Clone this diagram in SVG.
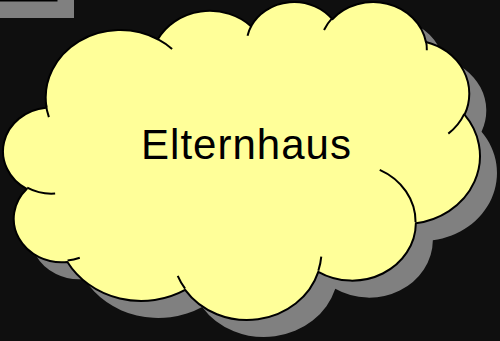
<svg xmlns="http://www.w3.org/2000/svg" xmlns:xlink="http://www.w3.org/1999/xlink" width="500" height="341" viewBox="0 0 500 341">
<style>
.bg{fill:#0f0f0f}
.shadow{fill:#808080;stroke:none}
.cloud{fill:#ffff99;stroke:#000;stroke-width:2;stroke-linejoin:round}
.fold{fill:none;stroke:#000;stroke-width:2}
.label{font-family:"Liberation Sans",Arial,sans-serif;font-size:42px;fill:#000}
</style>
<defs>
<path id="cloudPath" vector-effect="non-scaling-stroke" d="M3900,14370 A6753,9190 0 0 1 14005.1,5201.9 A5333,7267 0 0 1 22456,3431.9 A4365,5945 0 0 1 29832.9,2480.6 A4857,6595 0 0 1 38318.1,5575.9 A5333,7273 0 0 1 41818.3,15459.7 A6775,9220 0 0 1 37404.6,30203 A5785,7867 0 0 1 28556.3,36813.3 A6752,9215 0 0 1 16480.7,39264.3 A7720,10543 0 0 1 5805.1,35470.2 A4360,5918 0 0 1 2113.8,25548.3 A4345,5945 0 0 1 3863.9,14504.7 Z"/>
</defs>
<rect class="bg" x="0" y="0" width="500" height="341"/>
<g id="box">
<rect class="shadow" x="-20" y="-20" width="94" height="38"/>
<rect x="-20" y="-20" width="77.5" height="21.5" fill="#000"/>
</g>
<g id="elternhaus">
<g transform="translate(17,17) matrix(0.011027,0,0,0.0073582,3.39,0.97)">
<use xlink:href="#cloudPath" class="shadow"/>
</g>
<g transform="matrix(0.011027,0,0,0.0073582,3.39,0.97)">
<use xlink:href="#cloudPath" class="cloud"/>
<path class="fold" vector-effect="non-scaling-stroke" d="M4693,26177 A4345,5945 0 0 1 2159.9,25379.9 M6928,34899 A4360,5918 0 0 1 5819.8,35280.3 M16478,39090 A6752,9215 0 0 1 15810.3,37349.9 M28827,34751 A6752,9215 0 0 1 28560.4,36660.4 M34129,22954 A5785,7867 0 0 1 37380.4,30089.6 M41798,15354 A5333,7273 0 0 1 40350.2,18029.6 M38324,5426 A4857,6595 0 0 1 38400.4,6689.7 M29078,3952 A4857,6595 0 0 1 29819.7,2340.3 M22141,4720 A4365,5945 0 0 1 22500.3,3330.2 M14000,5192 A6753,9190 0 0 1 15299.9,6540.5 M4127,15789 A6753,9190 0 0 1 3838.6,13850.5"/>
</g>
<text class="label" x="141" y="159" textLength="210" lengthAdjust="spacing">Elternhaus</text>
</g>
</svg>
